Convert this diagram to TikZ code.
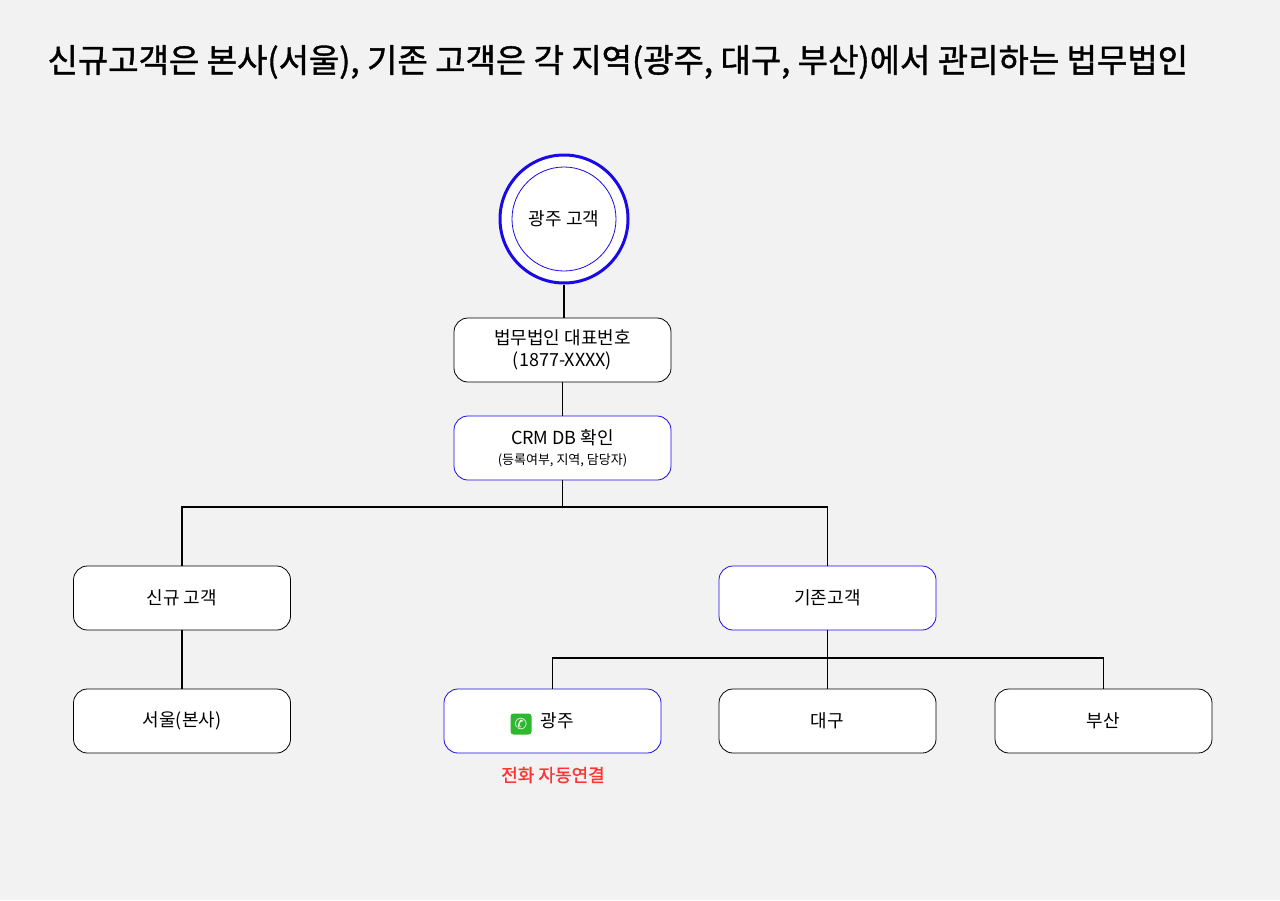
\documentclass[tikz,border=0pt]{standalone}
\usepackage{fontspec}
\setmainfont{Noto Sans CJK KR}
\newfontfamily\dejavu{DejaVu Sans}
\newfontfamily\bolder[FakeBold=1.2]{Noto Sans CJK KR}
\definecolor{bg}{HTML}{F2F2F2}
\definecolor{bl}{HTML}{1A0AE6}
\definecolor{rd}{HTML}{FF3333}
\definecolor{gr}{HTML}{2DB82D}
\begin{document}
\begin{tikzpicture}[x=1pt,y=-1pt,
  box/.style={draw=black,fill=white,rounded corners=14pt,minimum width=217pt,minimum height=64pt,align=center,font=\fontsize{18}{22}\selectfont,line width=0.8pt},
  bbox/.style={box,draw=bl},
  ln/.style={line width=1.6pt}]
\fill[bg] (0,0) rectangle (1280,900);
\node[anchor=west,font=\bolder\fontsize{33}{38}\selectfont] (title) at (44,62) {신규고객은 본사(서울), 기존 고객은 각 지역(광주, 대구, 부산)에서 관리하는 법무법인};
\node[circle,draw=bl,line width=3pt,fill=white,minimum size=128pt] (c) at (564,219) {};
\node[circle,draw=bl,line width=0.8pt,minimum size=104pt,font=\fontsize{18}{22}\selectfont] (ci) at (564,219) {광주 고객};
\node[box] (b1) at (562.5,350) {법무법인 대표번호\\(1877-XXXX)};
\node[bbox] (b2) at (562.5,448) {CRM DB 확인\\[-2pt]{\fontsize{13}{16}\selectfont (등록여부, 지역, 담당자)}};
\node[box] (new) at (182,598) {신규 고객};
\node[bbox] (old) at (827.5,598) {기존고객};
\node[box] (seoul) at (182,721) {서울(본사)};
\node[bbox] (gj) at (552.5,721) {\hspace*{10pt}광주};
\node[box] (dg) at (827.5,721) {대구};
\node[box] (bs) at (1103.5,721) {부산};
\node[fill=gr,rounded corners=3pt,minimum size=21pt,inner sep=0pt,text=white,font=\dejavu\fontsize{15}{15}\selectfont] (icon) at (521,724) {✆};
\node[text=rd,font=\bolder\fontsize{18}{22}\selectfont] (red) at (553,775) {전화 자동연결};
\draw[ln] (c.south) -- (564,318);
\draw[ln] (b1.south) -- (b2.north);
\draw[ln] (b2.south) -- (562.5,507) coordinate (j1);
\draw[ln] (new.north) |- (j1) -| (old.north);
\draw[ln] (new.south) -- (seoul.north);
\draw[ln] (old.south) -- (827.5,658) coordinate (j2);
\draw[ln] (gj.north) |- (j2) -| (bs.north);
\draw[ln] (j2) -- (dg.north);
\end{tikzpicture}
\end{document}
